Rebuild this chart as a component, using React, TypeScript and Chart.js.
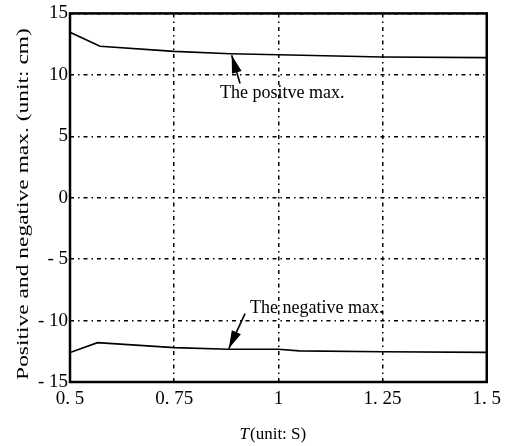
import React, { useEffect, useRef } from "react";
import { Chart, registerables } from "chart.js";

Chart.register(...registerables);

// Period T (unit: s) and the positive / negative maxima (unit: cm)
const posT = [0.5, 0.572, 0.75, 0.885, 1.0, 1.25, 1.5];
const posMax = [13.46, 12.32, 11.91, 11.72, 11.64, 11.45, 11.4];
const negT = [0.5, 0.566, 0.75, 0.88, 1.0, 1.05, 1.25, 1.5];
const negMax = [-12.6, -11.8, -12.2, -12.33, -12.34, -12.47, -12.54, -12.59];

const xTicks = [0.5, 0.75, 1, 1.25, 1.5];
const yTicks = [-15, -10, -5, 0, 5, 10, 15];

const xTitleItalic = "T";
const xTitleRest = "(unit: S)";
const yTitle = "Positive and negative max. (unit: cm)";

const annotationTexts = ["The positve max.", "The negative max."];
const annotationTextAt = [
  [0.86, 8.5],
  [0.932, -9.0],
];
const arrowTips = [
  [0.888, 11.6],
  [0.881, -12.28],
];
const arrowTails = [
  [0.908, 9.3],
  [0.92, -9.43],
];

const SERIF = '"Liberation Serif", "Times New Roman", serif';

const fmtX = (v: number) => String(v).replace(".", ". ");
const fmtY = (v: number) => (v < 0 ? "- " + Math.abs(v) : String(v));

export default function App() {
  const ref = useRef<HTMLCanvasElement | null>(null);

  useEffect(() => {
    document.body.style.margin = "0";
    const canvas = ref.current;
    if (!canvas) return;

    const overlay = {
      id: "overlay",
      afterDraw(chart: any) {
        const ctx = chart.ctx as CanvasRenderingContext2D;
        const { left, right, top, bottom } = chart.chartArea;
        const xs = chart.scales.x;
        const ys = chart.scales.y;
        ctx.save();
        // frame
        ctx.strokeStyle = "#000";
        ctx.lineWidth = 2.5;
        ctx.setLineDash([]);
        ctx.strokeRect(left, top, right - left, bottom - top);

        // annotations
        ctx.fillStyle = "#000";
        ctx.font = `18px ${SERIF}`;
        ctx.textBaseline = "middle";
        ctx.textAlign = "left";
        annotationTexts.forEach((t, i) => {
          const [tx, ty] = annotationTextAt[i];
          ctx.fillText(t, xs.getPixelForValue(tx), ys.getPixelForValue(ty));
          const x1 = xs.getPixelForValue(arrowTails[i][0]);
          const y1 = ys.getPixelForValue(arrowTails[i][1]);
          const x2 = xs.getPixelForValue(arrowTips[i][0]);
          const y2 = ys.getPixelForValue(arrowTips[i][1]);
          ctx.lineWidth = 1.6;
          ctx.beginPath();
          ctx.moveTo(x1, y1);
          ctx.lineTo(x2, y2);
          ctx.stroke();
          const ang = Math.atan2(y2 - y1, x2 - x1);
          const L = 18;
          const W = 5;
          const bx = x2 - L * Math.cos(ang);
          const by = y2 - L * Math.sin(ang);
          ctx.beginPath();
          ctx.moveTo(x2, y2);
          ctx.lineTo(bx + W * Math.sin(ang), by - W * Math.cos(ang));
          ctx.lineTo(bx - W * Math.sin(ang), by + W * Math.cos(ang));
          ctx.closePath();
          ctx.fill();
        });

        // x title
        ctx.textBaseline = "middle";
        ctx.font = `italic 17px ${SERIF}`;
        const wI = ctx.measureText(xTitleItalic).width;
        ctx.font = `17px ${SERIF}`;
        const wR = ctx.measureText(xTitleRest).width;
        const cx = (left + right) / 2 - 6;
        const x0 = cx - (wI + wR) / 2;
        ctx.textAlign = "left";
        ctx.font = `italic 17px ${SERIF}`;
        ctx.fillText(xTitleItalic, x0, 435);
        ctx.font = `17px ${SERIF}`;
        ctx.fillText(xTitleRest, x0 + wI + 1, 435);

        // y title (rotated, stretched along its length like the scan)
        ctx.save();
        ctx.translate(24, 204);
        ctx.rotate(-Math.PI / 2);
        ctx.scale(1.38, 1);
        ctx.font = `17px ${SERIF}`;
        ctx.textAlign = "center";
        ctx.textBaseline = "middle";
        ctx.fillText(yTitle, 0, 0);
        ctx.restore();

        ctx.restore();
      },
    };

    const grid = {
      display: true,
      color: "#000",
      lineWidth: 1.5,
      drawTicks: false,
    };

    const chart = new Chart(canvas, {
      type: "line",
      data: {
        datasets: [
          {
            label: "positive",
            data: posT.map((t, i) => ({ x: t, y: posMax[i] })),
            borderColor: "#000",
            borderWidth: 1.6,
            pointRadius: 0,
            tension: 0,
          },
          {
            label: "negative",
            data: negT.map((t, i) => ({ x: t, y: negMax[i] })),
            borderColor: "#000",
            borderWidth: 1.6,
            pointRadius: 0,
            tension: 0,
          },
        ],
      },
      options: {
        responsive: false,
        animation: false,
        devicePixelRatio: 1,
        layout: { padding: { left: 0, right: 20, top: 13, bottom: 0 } },
        plugins: { legend: { display: false }, tooltip: { enabled: false } },
        scales: {
          x: {
            type: "linear",
            min: 0.5,
            max: 1.5,
            afterFit(scale: any) {
              scale.height = 64;
            },
            afterBuildTicks(scale: any) {
              scale.ticks = xTicks.map((v) => ({ value: v }));
            },
            grid: grid as any,
            border: { display: false, dash: [4, 4, 1.5, 4] },
            ticks: {
              color: "#000",
              padding: 6,
              maxRotation: 0,
              autoSkip: false,
              font: { family: SERIF, size: 19 },
              callback: (v: any) => fmtX(Number(v)),
            },
          },
          y: {
            type: "linear",
            min: -15,
            max: 15,
            afterFit(scale: any) {
              scale.width = 70;
            },
            afterBuildTicks(scale: any) {
              scale.ticks = yTicks.map((v) => ({ value: v }));
            },
            grid: grid as any,
            border: { display: false, dash: [4, 4, 1.5, 4] },
            ticks: {
              color: "#000",
              padding: 2,
              autoSkip: false,
              font: { family: SERIF, size: 19 },
              callback: (v: any) => fmtY(Number(v)),
            },
          },
        },
      } as any,
      plugins: [overlay],
    });

    return () => chart.destroy();
  }, []);

  return (
    <div style={{ width: 507, height: 446, background: "#fff" }}>
      <canvas ref={ref} width={507} height={446} style={{ width: 507, height: 446, display: "block" }} />
    </div>
  );
}
